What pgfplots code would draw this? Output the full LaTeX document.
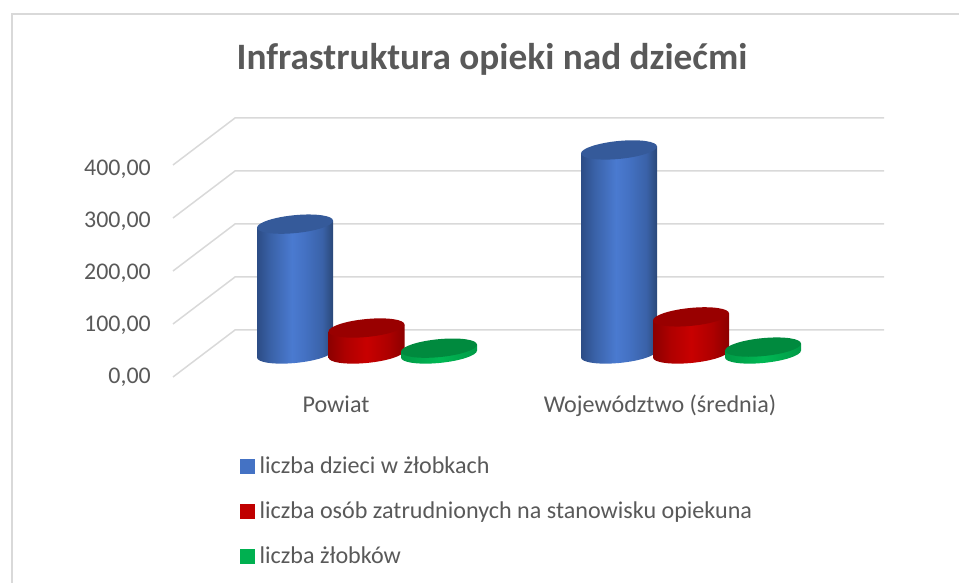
\documentclass[border=0pt]{standalone}
\usepackage{fontspec}
\setmainfont{Carlito}
\usepackage{pgfplots}
\pgfplotsset{compat=1.18}

\definecolor{txt}{HTML}{595959}
\definecolor{gridc}{HTML}{D9D9D9}
\definecolor{legblue}{HTML}{4472C4}
\definecolor{legred}{HTML}{C00000}
\definecolor{leggreen}{HTML}{00B050}
\definecolor{topblue}{HTML}{355A9A}
\definecolor{topred}{HTML}{990000}
\definecolor{topgreen}{HTML}{008A3E}
\definecolor{ba}{HTML}{2C4C85}
\definecolor{bb}{HTML}{3A62A8}
\definecolor{bc}{HTML}{4A7AD0}
\definecolor{bd}{HTML}{4472C4}
\definecolor{be}{HTML}{2A4878}
\definecolor{ra}{HTML}{8C0000}
\definecolor{rb}{HTML}{AE0000}
\definecolor{rc}{HTML}{C80000}
\definecolor{ga}{HTML}{009A46}
\definecolor{gb}{HTML}{00B854}

% cylinder side shadings, the box is 25bp to 75bp of the declared width
\pgfdeclarehorizontalshading{sideblue}{100bp}{color(0bp)=(ba);color(25bp)=(ba);color(34bp)=(bb);color(48bp)=(bc);color(56bp)=(bd);color(68bp)=(bb);color(75bp)=(be);color(100bp)=(be)}
\pgfdeclarehorizontalshading{sidered}{100bp}{color(0bp)=(ra);color(25bp)=(ra);color(36bp)=(rb);color(50bp)=(rc);color(64bp)=(rb);color(75bp)=(ra);color(100bp)=(ra)}
\pgfdeclarehorizontalshading{sidegreen}{100bp}{color(0bp)=(ga);color(25bp)=(ga);color(50bp)=(gb);color(75bp)=(ga);color(100bp)=(ga)}

\pgfdeclareplotmark{capflat}{%
  \pgfpathellipse{\pgfpointorigin}{\pgfqpoint{38bp}{3.5bp}}{\pgfqpoint{0bp}{9bp}}%
  \pgfusepathqfill}
\pgfdeclareplotmark{capsideblue}{%
  \pgfpathellipse{\pgfpointorigin}{\pgfqpoint{38bp}{3.5bp}}{\pgfqpoint{0bp}{9bp}}%
  \pgfshadepath{sideblue}{0}\pgfusepath{discard}}
\pgfdeclareplotmark{capsidered}{%
  \pgfpathellipse{\pgfpointorigin}{\pgfqpoint{38bp}{3.5bp}}{\pgfqpoint{0bp}{9bp}}%
  \pgfshadepath{sidered}{0}\pgfusepath{discard}}
\pgfdeclareplotmark{capsidegreen}{%
  \pgfpathellipse{\pgfpointorigin}{\pgfqpoint{38bp}{3.5bp}}{\pgfqpoint{0bp}{9bp}}%
  \pgfshadepath{sidegreen}{0}\pgfusepath{discard}}

% x position, value, colour name
% the caps lean 3.5 px (6.6 units) to the right, so the side follows that slope
\newcommand{\cyl}[3]{%
  \pgfmathsetmacro{\xl}{#1-38}\pgfmathsetmacro{\xr}{#1+38}%
  \pgfmathsetmacro{\yl}{#2-6.6}\pgfmathsetmacro{\yr}{#2+6.6}%
  \addplot[only marks, mark=capside#3, mark size=1pt] coordinates {(#1,0)};
  \addplot[draw=none, shading=side#3, shading angle=0] coordinates {(\xl,-6.6) (\xl,\yl) (\xr,\yr) (\xr,6.6)};
  \addplot[only marks, mark=capflat, mark options={draw=none, fill=top#3}] coordinates {(#1,#2)};
}

\pgfplotsset{
  base/.style={
    width=959bp, height=583bp, scale only axis,
    xmin=0, xmax=959,
    axis line style={draw=none},
    tick style={draw=none},
  },
  % cylinders stand mid-depth: 0 at pixel row 354
  cylaxis/.style={
    base,
    ymin=-432.08, ymax=667.92,
    xtick=\empty, ytick=\empty,
  },
}

\begin{document}
\begin{tikzpicture}
% front plane: 0 at pixel row 377, 0.53 px per unit
% the labels sit 52 px apart against 53 px of the grid, hence the tick positions
\begin{axis}[
  base,
  name=main,
  ymin=-388.68, ymax=711.32,
  ytick={0,98,196,294,392},
  yticklabels={{0,00},{100,00},{200,00},{300,00},{400,00}},
  yticklabel style={font=\fontsize{24}{28}\selectfont, text=txt, anchor=east, xshift=151bp, inner sep=0pt},
  xtick={336,660},
  xticklabels={Powiat,Województwo (średnia)},
  xticklabel style={font=\fontsize{24.2}{28}\selectfont, text=txt, anchor=base, yshift=170bp},
  title={Infrastruktura opieki nad dziećmi},
  title style={font=\bfseries\fontsize{37.4}{44}\selectfont, text=txt, at={(492bp,518bp)}, anchor=center},
  legend style={at={(240bp,128bp)}, anchor=north west, draw=none, fill=none,
    font=\fontsize{24.2}{28}\selectfont, text=txt, row sep=22.5bp, inner sep=0pt},
  legend cell align=left,
  legend image code/.code={\fill[#1] (0bp,-7bp) rectangle (14bp,7bp);\path (17bp,0bp);},
]
\addlegendimage{legblue}\addlegendentry{liczba dzieci w żłobkach}
\addlegendimage{legred}\addlegendentry{liczba osób zatrudnionych na stanowisku opiekuna}
\addlegendimage{leggreen}\addlegendentry{liczba żłobków}
% chart frame, open on the right and at the bottom
\addplot[gridc, line width=1.5bp, forget plot] coordinates {(12,-388.68) (12,684.9) (959,684.9)};
% walls
\addplot[gridc, line width=1.5bp, forget plot] coordinates {(173,0) (235,88.68) (884,88.68)};
\addplot[gridc, line width=1.5bp, forget plot] coordinates {(173,100) (235,188.68) (884,188.68)};
\addplot[gridc, line width=1.5bp, forget plot] coordinates {(173,200) (235,288.68) (884,288.68)};
\addplot[gridc, line width=1.5bp, forget plot] coordinates {(173,300) (235,388.68) (884,388.68)};
\addplot[gridc, line width=1.5bp, forget plot] coordinates {(173,400) (235,488.68) (884,488.68)};
\end{axis}
% one axis per series, so that red lies over blue and green over red
\begin{axis}[cylaxis]
\cyl{295}{245}{blue}
\cyl{619}{385}{blue}
\end{axis}
\begin{axis}[cylaxis]
\cyl{366.5}{49}{red}
\cyl{691}{70}{red}
\end{axis}
\begin{axis}[cylaxis]
\cyl{439}{11}{green}
\cyl{763}{13}{green}
\end{axis}
\end{tikzpicture}
\end{document}
